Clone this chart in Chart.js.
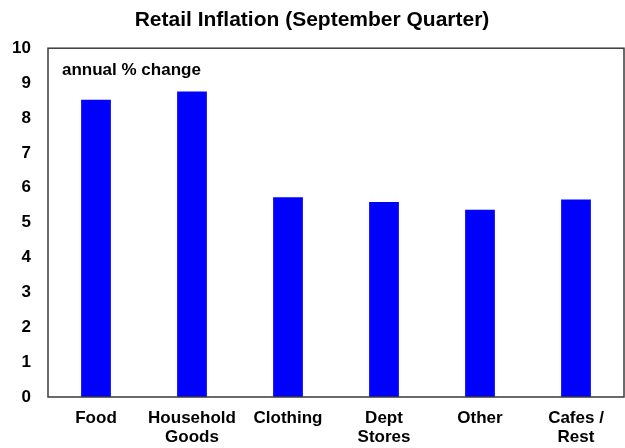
<!DOCTYPE html>
<html lang="en">
<head>
  <meta charset="UTF-8">
  <title>Retail Inflation (September Quarter)</title>
  <script src="https://cdn.jsdelivr.net/npm/chart.js"></script>
  <style>
    body { margin: 0; background: #fff; }
  </style>
</head>
<body>
  <canvas id="retailChart" width="625" height="448"></canvas>

  <script>
    const categories = ['Food', ['Household', 'Goods'], 'Clothing', ['Dept', 'Stores'], 'Other', ['Cafes /', 'Rest']];
    const inflation = [8.52, 8.76, 5.73, 5.59, 5.37, 5.66];
    const yTicks = [0, 1, 2, 3, 4, 5, 6, 7, 8, 9, 10];

    // frame around the plot area + the "annual % change" note
    const frame = {
      id: 'frame',
      afterDraw(chart) {
        const { ctx, chartArea: a } = chart;
        ctx.save();
        ctx.strokeStyle = '#3a3a3a';
        ctx.lineWidth = 1.5;
        ctx.strokeRect(a.left, a.top, a.right - a.left, a.bottom - a.top);
        ctx.fillStyle = '#000';
        ctx.font = 'bold 17px Arial, "Liberation Sans", sans-serif';
        ctx.textBaseline = 'middle';
        ctx.fillText('annual % change', a.left + 14, a.top + 22);
        ctx.restore();
      }
    };

    const ctx = document.getElementById('retailChart').getContext('2d');
    new Chart(ctx, {
      type: 'bar',
      data: {
        labels: categories,
        datasets: [{
          data: inflation,
          backgroundColor: '#0000ff',
          borderWidth: 0,
          categoryPercentage: 1,
          barPercentage: 0.31,
        }],
      },
      options: {
        responsive: false,
        animation: false,
        layout: { padding: { left: 0, right: 1, top: 0, bottom: 1 } },
        plugins: {
          legend: { display: false },
          tooltip: { enabled: false },
          title: {
            display: true,
            text: 'Retail Inflation (September Quarter)',
            color: '#000',
            font: { family: 'Arial, "Liberation Sans", sans-serif', size: 21, weight: 'bold' },
            padding: { top: 8, bottom: 15 },
          },
        },
        scales: {
          x: {
            grid: { display: false, drawTicks: false },
            border: { display: false },
            ticks: {
              color: '#000',
              padding: 12,
              maxRotation: 0,
              autoSkip: false,
              font: { family: 'Arial, "Liberation Sans", sans-serif', size: 17, weight: 'bold', lineHeight: 1.1 },
            },
            afterFit(scale) { scale.height = 50; },
          },
          y: {
            min: 0,
            max: 10,
            afterBuildTicks(scale) { scale.ticks = yTicks.map(v => ({ value: v })); },
            grid: { display: false, drawTicks: false },
            border: { display: false },
            ticks: {
              color: '#000',
              padding: 17,
              font: { family: 'Arial, "Liberation Sans", sans-serif', size: 17, weight: 'bold' },
            },
            afterFit(scale) { scale.width = 48; },
          },
        },
      },
      plugins: [frame],
    });
  </script>
</body>
</html>
